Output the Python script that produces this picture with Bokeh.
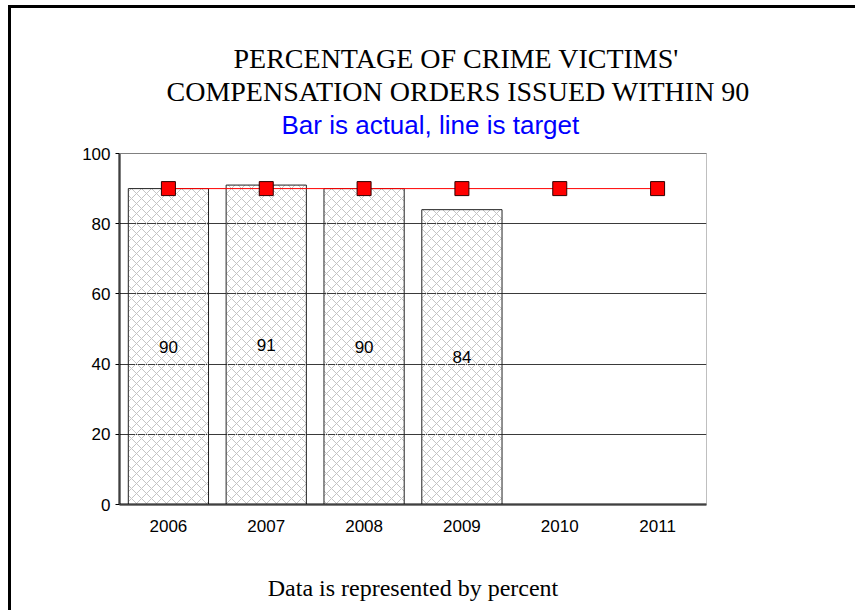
from bokeh.plotting import figure
from bokeh.models import Title, Label, BoxAnnotation, FactorRange, Range1d, ColumnDataSource
from bokeh.embed import file_html
from bokeh.resources import INLINE
from bokeh.core.properties import value

years = ["2006", "2007", "2008", "2009", "2010", "2011"]
bar_years = ["2006", "2007", "2008", "2009"]
actual = [90, 91, 90, 84]
target = [90, 90, 90, 90, 90, 90]
y_ticks = [0, 20, 40, 60, 80, 100]

title_line1 = "PERCENTAGE OF CRIME VICTIMS'"
title_line2 = "COMPENSATION ORDERS ISSUED WITHIN 90"
subtitle = "Bar is actual, line is target"
footer = "Data is represented by percent"

W, H = 847, 605
FL, FR, FT, FB = 108, 152, 98, 109   # borders in canvas px
PX_PER_UNIT = 3.51                    # vertical scale of the value axis
Y_TOP = (H - FB - FT) / PX_PER_UNIT   # frame reaches above 100 to hold the subtitle

p = figure(width=W, height=H, x_range=FactorRange(*years, range_padding=0),
           y_range=Range1d(0, Y_TOP), output_backend="svg", toolbar_location=None,
           min_border_left=FL, min_border_right=FR, min_border_top=FT,
           min_border_bottom=FB)
p.styles = {"margin-left": "8px", "margin-top": "5px",
            "border-left": "3px solid black", "border-top": "3px solid black"}

p.background_fill_color = "white"
p.border_fill_color = "white"
p.outline_line_color = None

# visible plot-area border from 0 to 100
p.add_layout(BoxAnnotation(bottom=0, top=100, fill_alpha=0, line_color="#808080",
                           line_width=1, line_alpha=1))

p.xgrid.grid_line_color = None
p.ygrid.grid_line_color = "#3a3a3a"
p.ygrid.grid_line_width = 1
p.yaxis.ticker = y_ticks
p.yaxis.bounds = (0, 100)

for ax in (p.xaxis, p.yaxis):
    ax.axis_line_color = "black"
    ax.axis_line_width = 2
    ax.major_label_text_font = "Liberation Sans"
    ax.major_label_text_font_size = "17px"
    ax.major_label_text_color = "black"
    ax.minor_tick_line_color = None
p.xaxis.major_tick_line_color = None
p.xaxis.major_label_standoff = 9
p.yaxis.major_tick_line_color = "black"
p.yaxis.major_tick_out = 4
p.yaxis.major_tick_in = 0
p.yaxis.major_label_standoff = 5

# footer text as the x axis label
p.xaxis.axis_label = footer
p.xaxis.axis_label_text_font = "Liberation Serif"
p.xaxis.axis_label_text_font_size = "24px"
p.xaxis.axis_label_text_font_style = "normal"
p.xaxis.axis_label_text_color = "black"
p.xaxis.axis_label_standoff = 40

src = ColumnDataSource(dict(x=bar_years, top=actual, mid=[v / 2 for v in actual],
                            lab=[str(v) for v in actual]))
p.vbar(x="x", top="top", width=0.82, source=src, fill_alpha=0,
       line_color="#222222", line_width=1,
       hatch_pattern="diagonal_cross", hatch_color="#c4c4c4",
       hatch_scale=10, hatch_weight=1)
p.text(x="x", y="mid", text="lab", source=src, text_align="center",
       text_baseline="middle", text_font=value("Liberation Sans"),
       text_font_size="17px", text_color="black")

p.line(years, target, line_color="red", line_width=1)
p.scatter(years, target, marker="square", size=14, fill_color="red",
          line_color="#300000", line_width=1)

# subtitle inside the (extended) frame, just above the 100 line
sub_baseline_canvas = 116
p.add_layout(Label(x=270 - FL, x_units="screen",
                   y=(H - FB - sub_baseline_canvas) / PX_PER_UNIT, y_units="data",
                   text=subtitle, text_align="left", text_baseline="alphabetic",
                   text_font="Liberation Sans", text_font_size="26px",
                   text_color="#0000ff"))

def add_title(txt, left, font, size, color, standoff):
    p.add_layout(Title(text=txt, align="left", offset=left - FL,
                       text_font=font, text_font_size=f"{size}px",
                       text_color=color, text_font_style="normal",
                       standoff=standoff), "above")

add_title(title_line2, 155, "Liberation Serif", 28, "black", 0)
add_title(title_line1, 222, "Liberation Serif", 28, "black", 0)

open("out.html", "w").write(file_html(p, INLINE))
